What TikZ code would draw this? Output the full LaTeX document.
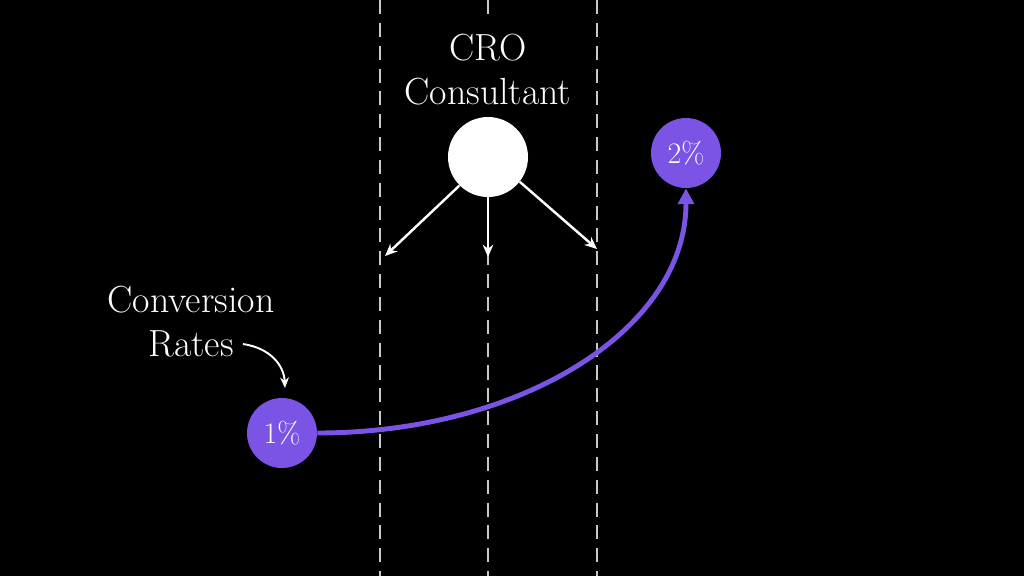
\documentclass[tikz,border=0pt]{standalone}
\usetikzlibrary{arrows.meta}
\definecolor{cropurple}{RGB}{123,84,230}
\definecolor{dashgrey}{RGB}{200,200,200}
\begin{document}
\begin{tikzpicture}[x=0.02cm,y=-0.02cm,
  guide/.style={draw=dashgrey,line width=1.2pt,dash pattern=on 8pt off 5pt},
  lbl/.style={text=white,align=center,font=\fontsize{21.5}{25}\selectfont,inner sep=1pt},
  pct/.style={circle,fill=cropurple,minimum size=70*0.02cm,inner sep=0pt,text=white,font=\fontsize{17}{18}\selectfont},
  whitearrow/.style={draw=white,line width=1.4pt,-{Stealth[length=7pt,width=6pt]}},
  growth/.style={draw=cropurple,line width=2.8pt,-{Triangle[length=9pt,width=9pt]}}]
\fill[black] (0,0) rectangle (1024,576);
\useasboundingbox (0,0) rectangle (1024,576);
\coordinate (gLt) at (380,0); \coordinate (gLb) at (380,576);
\coordinate (gMt) at (488,0); \coordinate (gMb) at (488,576);
\coordinate (gRt) at (597,0); \coordinate (gRb) at (597,576);
\draw[guide] (gLt) -- (gLb);
\draw[guide] (gMt) -- (gMb);
\draw[guide] (gRt) -- (gRb);
\node[lbl,fill=black,inner ysep=7pt] (cro) at (488,70) {CRO\\Consultant};
\node[circle,fill=white,minimum size=80*0.02cm,inner sep=0pt] (consultant) at (488,157) {};
\coordinate (aL) at (385,256);
\coordinate (aM) at (488,257);
\coordinate (aR) at (597,249);
\draw[whitearrow] (consultant.-135) -- (aL);
\draw[whitearrow] (consultant.south) -- (aM);
\draw[whitearrow] (consultant.-38) -- (aR);
\node[pct] (one) at (282,433) {1\%};
\node[pct] (two) at (686,153) {2\%};
\draw[growth] (one.east) .. controls (520,433) and (686,330) .. (two.south);
\node[lbl] (conv) at (191,322) {Conversion\\Rates};
\draw[draw=white,line width=1.1pt,-{Stealth[length=6pt,width=5pt]}] (243,344) .. controls (270,348) and (284,365) .. (285,388);
\end{tikzpicture}
\end{document}
